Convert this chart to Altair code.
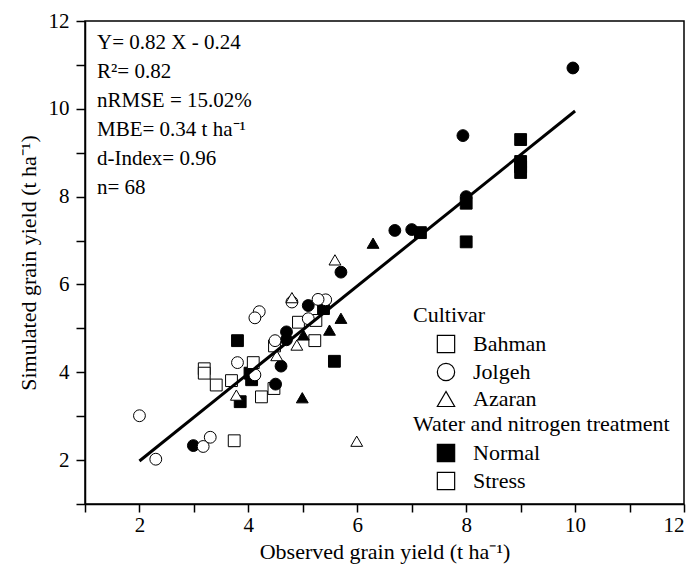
import altair as alt
import pandas as pd

FONT = "Liberation Serif"

# ---- data (observed, simulated) ----
bahman_normal_obs = [3.80, 3.85, 4.03, 4.06, 5.38, 5.58, 7.16, 8.00, 8.00, 9.00, 9.00, 9.00, 9.00]
bahman_normal_sim = [4.72, 3.33, 3.98, 3.83, 5.45, 4.25, 7.18, 7.85, 6.97, 9.30, 8.80, 8.68, 8.55]
bahman_stress_obs = [3.19, 3.19, 3.41, 3.69, 3.74, 4.09, 4.24, 4.47, 4.48, 4.92, 5.24, 5.22]
bahman_stress_sim = [4.08, 3.98, 3.71, 3.81, 2.44, 4.22, 3.44, 3.63, 4.60, 5.14, 5.18, 4.72]
jolgeh_normal_obs = [2.99, 4.50, 4.60, 4.70, 4.70, 5.10, 5.70, 6.69, 7.00, 8.00, 7.94, 9.96]
jolgeh_normal_sim = [2.33, 3.73, 4.14, 4.92, 4.74, 5.52, 6.28, 7.23, 7.25, 8.00, 9.39, 10.93]
jolgeh_stress_obs = [2.00, 2.30, 3.17, 3.30, 3.80, 4.12, 4.20, 4.12, 4.49, 4.80, 5.10, 5.42, 5.28]
jolgeh_stress_sim = [3.01, 2.02, 2.31, 2.52, 4.22, 3.94, 5.38, 5.24, 4.72, 5.60, 5.22, 5.65, 5.66]
azaran_normal_obs = [4.99, 5.01, 5.49, 5.70, 6.29]
azaran_normal_sim = [3.42, 4.85, 4.96, 5.23, 6.94]
azaran_stress_obs = [3.78, 4.52, 4.89, 4.80, 5.59, 5.99]
azaran_stress_sim = [3.48, 4.38, 4.62, 5.70, 6.56, 2.43]

fit_obs = [2.0, 10.0]
fit_sim = [1.98, 9.95]

cultivars = ["Bahman", "Jolgeh", "Azaran"]
shapes = ["square", "circle", "triangle-up"]
treatments = ["Normal", "Stress"]

stats_lines = [
    "Y= 0.82 X - 0.24",
    "R\u00b2= 0.82",
    "nRMSE = 15.02%",
    "MBE= 0.34 t ha\u207b\u00b9",
    "d-Index= 0.96",
    "n= 68",
]

groups = [
    ("Bahman", "Normal", bahman_normal_obs, bahman_normal_sim),
    ("Bahman", "Stress", bahman_stress_obs, bahman_stress_sim),
    ("Jolgeh", "Normal", jolgeh_normal_obs, jolgeh_normal_sim),
    ("Jolgeh", "Stress", jolgeh_stress_obs, jolgeh_stress_sim),
    ("Azaran", "Normal", azaran_normal_obs, azaran_normal_sim),
    ("Azaran", "Stress", azaran_stress_obs, azaran_stress_sim),
]
rows = []
for cv, tr, xs_, ys_ in groups:
    for a, b in zip(xs_, ys_):
        rows.append({"obs": a, "sim": b, "cultivar": cv, "treatment": tr})
df = pd.DataFrame(rows)
fit_df = pd.DataFrame({"obs": fit_obs, "sim": fit_sim})

ticks = list(range(1, 13))
even_only = "datum.value % 2 == 0 ? datum.label : ''"

x_axis = alt.Axis(values=ticks, labelExpr=even_only, title="Observed grain yield (t ha\u207b\u00b9)",
                  tickSize=8, labelPadding=2, titlePadding=6)
y_axis = alt.Axis(values=ticks, labelExpr=even_only, title="Simulated grain yield (t ha\u207b\u00b9)",
                  tickSize=9, labelPadding=7, titlePadding=8)

xs = alt.Scale(domain=[1, 12], nice=False, zero=False)
ys = alt.Scale(domain=[1, 12], nice=False, zero=False)

legend_common = dict(
    orient="none", titleFont=FONT, labelFont=FONT, titleFontSize=22, labelFontSize=22,
    titleFontWeight="normal", titleColor="black", labelColor="black", padding=0,
    symbolOffset=22, labelOffset=16, rowPadding=4, titlePadding=6, symbolSize=300,
    symbolStrokeColor="black", symbolStrokeWidth=1.2, titleLimit=500, labelLimit=300,
)

points = alt.Chart(df).mark_point(filled=True, stroke="black", strokeWidth=1, size=140, opacity=1).encode(
    x=alt.X("obs:Q", scale=xs, axis=x_axis),
    y=alt.Y("sim:Q", scale=ys, axis=y_axis),
    shape=alt.Shape("cultivar:N", scale=alt.Scale(domain=cultivars, range=shapes),
                    legend=alt.Legend(title="Cultivar", legendX=328, legendY=284,
                                      symbolFillColor="white", **legend_common)),
    fill=alt.Fill("treatment:N", scale=alt.Scale(domain=treatments, range=["black", "white"]),
                  legend=alt.Legend(title="Water and nitrogen treatment", legendX=328, legendY=393,
                                    symbolType="square", **legend_common)),
)

line = alt.Chart(fit_df).mark_line(color="black", strokeWidth=3).encode(
    x=alt.X("obs:Q", scale=xs),
    y=alt.Y("sim:Q", scale=ys),
)

stats = alt.Chart(pd.DataFrame({"k": [0]})).mark_text(
    text=stats_lines, align="left", baseline="alphabetic", font=FONT, fontSize=21,
    lineHeight=29, color="black",
).encode(x=alt.value(12), y=alt.value(28))

chart = alt.layer(points, line, stats).properties(
    width=599, height=483,
    padding={"left": 85, "top": 21, "right": 10, "bottom": 66},
    autosize=alt.AutoSizeParams(type="none"),
).configure_view(stroke="black", strokeWidth=1.5).configure_axis(
    grid=False, domainColor="black", domainWidth=1.5, tickColor="black", tickWidth=1.5,
    labelFont=FONT, labelFontSize=21, labelColor="black",
    titleFont=FONT, titleFontSize=22, titleFontWeight="normal", titleColor="black",
)

chart.save("out.html", embed_options={"renderer": "svg", "actions": False})
